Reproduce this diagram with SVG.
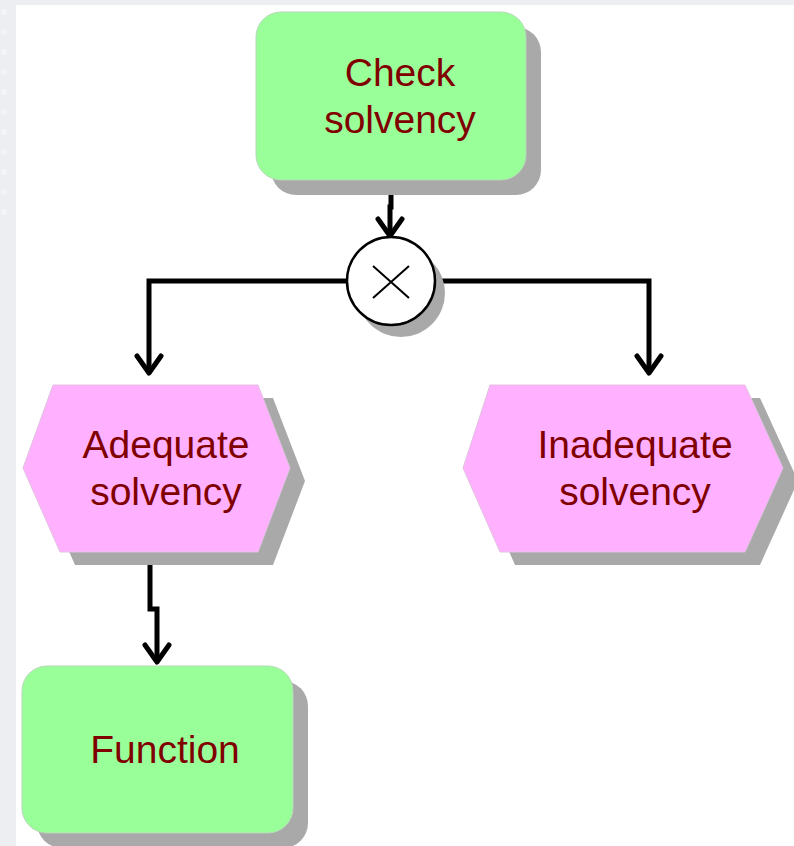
<svg xmlns="http://www.w3.org/2000/svg" width="794" height="846" viewBox="0 0 794 846">
  <defs>
    <style>
      .func { fill: #99ff99; stroke: #b8d8b8; stroke-width: 1; }
      .event { fill: #ffb0ff; stroke: #e0c0e0; stroke-width: 1; }
      .shadow { fill: #a9a9a9; }
      .label { font-family: "Liberation Sans", Arial, sans-serif; font-size: 39px; fill: #800000; text-anchor: middle; }
      .flow { fill: none; stroke: #000; stroke-width: 5; stroke-linejoin: miter; }
      .head { fill: none; stroke: #000; stroke-width: 5; stroke-linecap: round; stroke-linejoin: round; }
    </style>
    <pattern id="dots" x="0" y="2" width="16" height="20" patternUnits="userSpaceOnUse">
      <circle cx="4" cy="10" r="3" fill="#f3f4f7"/>
    </pattern>
  </defs>

  <!-- page background -->
  <rect x="0" y="0" width="794" height="846" fill="#eceef2"/>
  <rect x="0" y="0" width="16" height="220" fill="url(#dots)"/>
  <rect x="16" y="5" width="778" height="841" fill="#ffffff"/>

  <!-- connectors -->
  <g id="connectors">
    <!-- Check solvency to XOR -->
    <path class="flow" d="M391,181 V207 H390 V234"/>
    <path class="head" d="M378,219 L390,236 L402,219"/>
    <!-- XOR to Adequate solvency -->
    <path class="flow" d="M347,281 H149 V370"/>
    <path class="head" d="M137,356 L149,373 L161,356"/>
    <!-- XOR to Inadequate solvency -->
    <path class="flow" d="M435,281 H649 V370"/>
    <path class="head" d="M637,356 L649,373 L661,356"/>
    <!-- Adequate solvency to Function -->
    <path class="flow" d="M150,553 V609 H157 V658"/>
    <path class="head" d="M145,645 L157,662 L169,645"/>
  </g>

  <!-- function: Check solvency -->
  <g id="check-solvency">
    <rect class="shadow" x="271" y="27" width="270" height="168" rx="25"/>
    <rect class="func" x="256" y="12" width="270" height="168" rx="25"/>
    <text class="label" x="400" y="86">Check</text>
    <text class="label" x="400" y="133">solvency</text>
  </g>

  <!-- XOR connector -->
  <g id="xor">
    <circle class="shadow" cx="401" cy="293" r="44"/>
    <circle cx="391" cy="281" r="44" fill="#ffffff" stroke="#000" stroke-width="2.5"/>
    <path d="M373,266 L409,298 M409,266 L373,298" stroke="#000" stroke-width="2" fill="none"/>
  </g>

  <!-- event: Adequate solvency -->
  <g id="adequate-solvency">
    <polygon class="shadow" points="68,398 273,398 305,481 273,565 75,565 38,481"/>
    <polygon class="event" points="53,385 258,385 290,468 258,552 60,552 23,468"/>
    <text class="label" x="166" y="458">Adequate</text>
    <text class="label" x="166" y="505">solvency</text>
  </g>

  <!-- event: Inadequate solvency -->
  <g id="inadequate-solvency">
    <polygon class="shadow" points="505,398 760,398 798,481 760,565 515,565 478,481"/>
    <polygon class="event" points="490,385 745,385 783,468 745,552 500,552 463,468"/>
    <text class="label" x="635" y="458">Inadequate</text>
    <text class="label" x="635" y="505">solvency</text>
  </g>

  <!-- function: Function -->
  <g id="function">
    <rect class="shadow" x="37" y="681" width="271" height="167" rx="25"/>
    <rect class="func" x="22" y="666" width="271" height="167" rx="25"/>
    <text class="label" x="165" y="763">Function</text>
  </g>
</svg>
